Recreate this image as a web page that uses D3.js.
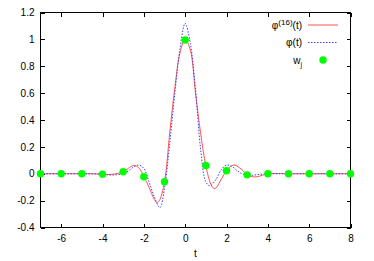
<!DOCTYPE html>
<html>
<head>
<meta charset="utf-8">
<script src="https://cdn.jsdelivr.net/npm/d3@7"></script>
<style>
  body { margin: 0; background: #fff; }
  text { font-family: "Liberation Sans", Arial, sans-serif; fill: #000; }
</style>
</head>
<body>
<div class="vis"></div>
<script>
// tick values
const xTicks = [-6, -4, -2, 0, 2, 4, 6, 8];
const yTicks = [-0.4, -0.2, 0, 0.2, 0.4, 0.6, 0.8, 1, 1.2];

// phi^(16)(t)
const phi16T = [-7, -6, -5, -4.5, -4, -3.75, -3.5, -3.25, -3, -2.75, -2.5, -2.25, -2, -1.75, -1.5, -1.37, -1.25, -1, -0.75, -0.5, -0.25, 0, 0.25, 0.5, 0.75, 1, 1.25, 1.4, 1.5, 1.75, 2, 2.25, 2.4, 2.5, 2.75, 3, 3.25, 3.5, 3.75, 4, 4.5, 5, 6, 7, 8];
const phi16V = [0, 0, 0, 0, -0.003, -0.006, -0.004, 0.003, 0.015, 0.04, 0.062, 0.045, -0.02, -0.1, -0.19, -0.215, -0.2, -0.06, 0.3, 0.64, 0.9, 1.0, 0.92, 0.6, 0.3, 0.06, -0.08, -0.11, -0.105, -0.04, 0.022, 0.06, 0.065, 0.058, 0.03, -0.008, -0.022, -0.022, -0.01, 0, 0.002, 0, 0, 0, 0];

// phi(t)
const phiT = [-7, -6, -5, -4.5, -4, -3.75, -3.5, -3.25, -3, -2.75, -2.5, -2.25, -2, -1.75, -1.5, -1.25, -1.2, -1, -0.75, -0.5, -0.25, 0, 0.25, 0.5, 0.75, 1, 1.2, 1.5, 1.75, 2, 2.25, 2.5, 2.75, 3, 3.25, 3.5, 4, 4.5, 5, 6, 7, 8];
const phiV = [0, 0, 0, -0.001, -0.004, -0.008, -0.009, -0.006, 0, 0.02, 0.05, 0.065, 0.04, -0.06, -0.17, -0.25, -0.25, -0.11, 0.22, 0.6, 0.93, 1.12, 0.97, 0.63, 0.18, -0.06, -0.09, -0.04, 0.03, 0.065, 0.055, 0.025, 0, -0.012, -0.012, -0.006, 0, 0, 0, 0, 0, 0];

// samples w_j
const wT = [-7, -6, -5, -4, -3, -2, -1, 0, 1, 2, 3, 4, 5, 6, 7, 8];
const wV = [0, 0, 0, -0.003, 0.015, -0.022, -0.06, 0.995, 0.062, 0.022, -0.008, 0, 0, 0, 0, 0];

const W = 374, H = 261;
const plot = {left: 40.5, right: 350.5, top: 12.5, bottom: 227.5};

const svg = d3.select(".vis").append("svg")
    .attr("width", W)
    .attr("height", H);

const x = d3.scaleLinear().domain([-7, 8]).range([plot.left, plot.right]);
const y = d3.scaleLinear().domain([-0.4, 1.2]).range([plot.bottom, plot.top]);
const fmt = d => String(+d.toFixed(1));

// axes (ticks point inward, mirrored on top and right)
function styleAxis(g) {
    g.select(".domain").remove();
    g.selectAll(".tick line").attr("stroke", "#000").attr("shape-rendering", "crispEdges");
    g.selectAll(".tick text").style("font-size", "10px").attr("fill", "#111");
}
svg.append("g")
    .attr("transform", `translate(0,${plot.bottom})`)
    .call(d3.axisBottom(x).tickValues(xTicks).tickFormat(fmt).tickSize(-4).tickPadding(7))
    .call(styleAxis);
svg.append("g")
    .attr("transform", `translate(0,${plot.top})`)
    .call(d3.axisTop(x).tickValues(xTicks).tickFormat("").tickSize(-4))
    .call(styleAxis);
svg.append("g")
    .attr("transform", `translate(${plot.left},0)`)
    .call(d3.axisLeft(y).tickValues(yTicks).tickFormat(fmt).tickSize(-4).tickPadding(6))
    .call(styleAxis);
svg.append("g")
    .attr("transform", `translate(${plot.right},0)`)
    .call(d3.axisRight(y).tickValues(yTicks).tickFormat("").tickSize(-4))
    .call(styleAxis);

svg.append("rect")
    .attr("x", plot.left).attr("y", plot.top)
    .attr("width", plot.right - plot.left).attr("height", plot.bottom - plot.top)
    .attr("fill", "none").attr("stroke", "#000")
    .attr("shape-rendering", "crispEdges");

svg.append("text")
    .attr("x", (plot.left + plot.right) / 2).attr("y", 257)
    .attr("text-anchor", "middle")
    .style("font-size", "10px")
    .text("t");

// curves
const line = d3.line()
    .x(d => x(d[0]))
    .y(d => y(d[1]))
    .curve(d3.curveCatmullRom.alpha(0.5));

svg.append("path")
    .datum(phi16T.map((t, i) => [t, phi16V[i]]))
    .attr("d", line)
    .attr("fill", "none")
    .attr("stroke", "#ff4040")
    .attr("stroke-width", 0.9);

svg.append("path")
    .datum(phiT.map((t, i) => [t, phiV[i]]))
    .attr("d", line)
    .attr("fill", "none")
    .attr("stroke", "#4040ff")
    .attr("stroke-width", 1)
    .attr("stroke-dasharray", "1.5,1.5");

svg.selectAll(".dot")
    .data(wT.map((t, i) => [t, wV[i]]))
    .join("circle")
    .attr("class", "dot")
    .attr("cx", d => x(d[0]))
    .attr("cy", d => y(d[1]))
    .attr("r", 3.7)
    .attr("fill", "#00ff00");

// legend
const legend = svg.append("g").style("font-size", "10px");
const rows = [25, 42.5, 60];

const t1 = legend.append("text").attr("x", 302).attr("y", rows[0] + 3.5).attr("text-anchor", "end");
t1.append("tspan").text("φ");
t1.append("tspan").attr("dy", -4).style("font-size", "8px").text("(16)");
t1.append("tspan").attr("dy", 4).text("(t)");
legend.append("line")
    .attr("x1", 308).attr("x2", 338).attr("y1", rows[0]).attr("y2", rows[0])
    .attr("stroke", "#ff4040").attr("stroke-width", 0.9);

legend.append("text").attr("x", 302).attr("y", rows[1] + 3.5).attr("text-anchor", "end").text("φ(t)");
legend.append("line")
    .attr("x1", 308).attr("x2", 338).attr("y1", rows[1]).attr("y2", rows[1])
    .attr("stroke", "#4040ff").attr("stroke-dasharray", "1.5,1.5");

const t3 = legend.append("text").attr("x", 302).attr("y", rows[2] + 3.5).attr("text-anchor", "end");
t3.append("tspan").text("w");
t3.append("tspan").attr("dy", 3).style("font-size", "7px").text("j");
legend.append("circle")
    .attr("cx", 323).attr("cy", rows[2]).attr("r", 3.7).attr("fill", "#00ff00");
</script>
</body>
</html>
